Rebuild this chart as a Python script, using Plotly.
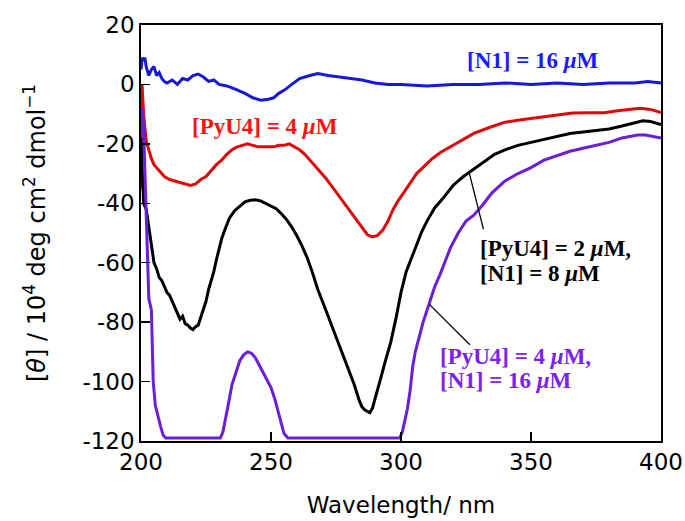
import plotly.graph_objects as go

# ---- data ----
wl_n1 = [200, 200.5, 201, 201.5, 202, 203, 204, 205, 206, 207, 208, 209, 210, 212, 214, 216, 218, 220,
         222, 224, 226, 228, 230, 233, 236, 240, 243, 246, 249, 251, 253, 255, 258, 261, 265, 268, 272,
         276, 280, 285, 290, 295, 300, 310, 320, 330, 340, 350, 360, 370, 380, 390, 395, 400]
cd_n1 = [5, 9, 8, 9, 6, 3, 5, 6, 3, 4, 2, 1, 0.5, 1.5, 0, 2, 1.5, 3,
         3.5, 2.5, 1, 1.5, 0, -0.5, -1.5, -3, -4.5, -5.3, -5, -4.5, -3, -2, 0, 2, 3, 3.7, 3,
         2.5, 2, 1.5, 0.5, 0, 0, -0.5, 0, 0, 0.5, 0, 0.5, 0, 0.5, 0.5, 1, 0.5]

wl_pyu4 = [200, 200.4, 201, 202, 203, 204, 205, 207, 209, 211, 213, 215, 217, 219, 221, 223, 225, 227,
           229, 231, 233, 235, 237, 239, 241, 243, 245, 247, 249, 251, 253, 255, 257, 259, 261, 263,
           265, 268, 271, 274, 277, 280, 283, 285, 287, 289, 291, 293, 295, 297, 299, 301, 303, 306,
           309, 312, 315, 319, 323, 328, 334, 340, 347, 354, 360, 366, 372, 378, 384, 388, 392, 396, 400]
cd_pyu4 = [-35, 0, -10, -19, -22, -25, -27, -29, -31, -32, -32.5, -33, -33.5, -34, -33.5, -32, -31, -29,
           -27, -25.5, -23.5, -22, -21, -20.5, -20, -20.5, -21, -21, -21, -21, -20.5, -20.5, -20, -21, -22, -23.5,
           -25.5, -28.5, -31.5, -35, -38.5, -42, -45.5, -48, -50.5, -51.3, -50.8, -49, -46, -42, -39, -36.5, -34, -30,
           -27.5, -25, -23, -21, -19, -16.5, -14.5, -12.7, -11.8, -10.9, -10.3, -9.6, -9.5, -9.5, -8.8, -8.3, -8, -8.4, -9.5]

wl_mix2 = [200, 200.5, 201, 202, 203, 204, 205, 206, 207, 208, 209, 210, 211, 212, 213, 214, 215, 216, 217,
           218, 219, 220, 221, 222, 223, 224, 225, 226, 227, 228, 229, 230, 231, 232, 234, 236, 238, 240, 242,
           244, 246, 248, 250, 252, 254, 256, 258, 260, 262, 264, 266, 268, 270, 272, 274, 276, 278, 280, 282,
           284, 285, 286, 287, 288, 289, 290, 291, 292, 294, 296, 298, 300, 302, 304, 306, 308, 310, 313, 316,
           320, 324, 328, 332, 336, 340, 345, 350, 355, 360, 365, 370, 375, 380, 385, 390, 393, 396, 400]
cd_mix2 = [-18, -30, -40, -42, -48, -55, -60, -62, -65, -66, -68, -70, -71, -73, -75, -77, -79, -78, -80.5,
           -81, -82, -82.5, -81.5, -81, -78.5, -76, -73, -69, -66, -63, -59, -55, -52, -49.5, -45, -42.5, -41, -39.5, -39,
           -38.8, -39.2, -40, -40.8, -41.8, -43.5, -45.5, -48, -51, -54.5, -58.5, -63.5, -69, -73.5, -78, -82.5, -87.5, -92, -96, -101,
           -106.5, -108.5, -109.5, -110, -110.5, -109, -106, -103, -99.5, -93, -87, -79, -70, -63, -58.5, -53.5, -49.5, -46, -41.5, -38.5,
           -34, -31, -28.5, -26, -23.5, -22, -20.5, -19.5, -18.5, -17.5, -16.5, -16, -15.5, -15, -14, -12.8, -12.2, -12.5, -13.5]

wl_mix4 = [200, 200.5, 201, 202, 203, 204, 204.7, 205.5, 206.5, 207.5, 208.5, 209.5, 212, 216, 220, 224, 228,
           230.5, 231.5, 232.5, 233.5, 235, 236.5, 238, 239.5, 241, 242.5, 244, 245.5, 247, 248.5, 250, 251.5,
           253, 254, 255, 256.5, 258, 262, 270, 280, 290, 299.5, 300.5, 301.5, 302.5, 303.5, 304.5, 305.5, 307,
           308.5, 310, 311.5, 313, 315, 317, 319, 322, 325, 328, 331, 335, 340, 345, 350, 355, 360, 365, 370,
           375, 380, 385, 388, 391, 394, 397, 400]
cd_mix4 = [-12, -8, -15, -45, -72, -76, -100, -108, -112, -115, -118, -119, -119, -119, -119, -119, -119,
           -119, -117, -113, -108, -101, -97, -93, -91, -90, -90.5, -92, -94.5, -97, -99, -102, -106,
           -111, -115, -117.5, -119, -119, -119, -119, -119, -119, -119, -117, -113, -109, -103, -95, -90, -84.5,
           -80, -76, -72, -68, -64, -59.5, -55, -50, -46, -44, -41, -36.5, -32.5, -30, -28, -25.5, -24, -22.5, -21.5,
           -20.5, -19.5, -18, -17.5, -17, -17, -17.5, -18]

x_ticks = [200, 250, 300, 350, 400]
y_ticks = [-120, -100, -80, -60, -40, -20, 0, 20]

BLUE = "#1818d8"
RED = "#dc0a0a"
BLACK = "#000000"
PURPLE = "#6a1ed8"

fig = go.Figure()
for wl, cd, col in [(wl_n1, cd_n1, BLUE), (wl_pyu4, cd_pyu4, RED),
                    (wl_mix2, cd_mix2, BLACK), (wl_mix4, cd_mix4, PURPLE)]:
    fig.add_trace(go.Scatter(x=wl, y=cd, mode="lines",
                             line=dict(color=col, width=3), showlegend=False,
                             cliponaxis=True, hoverinfo="skip"))

serif = "Liberation Serif"
ann_font = 23


def label(x, y, text, color, anchor="center"):
    fig.add_annotation(x=x, y=y, xref="x", yref="y", showarrow=False,
                       xanchor=anchor, yanchor="middle", text="<b>" + text + "</b>",
                       font=dict(family=serif, size=ann_font, color=color))


label(350.6, 8.2, "[N1] = 16 <i>μ</i>M", "#1a1aff")
label(247.7, -14.3, "[PyU4] = 4 <i>μ</i>M", "#ff1010")
label(329.7, -55.1, "[PyU4] = 2 <i>μ</i>M,", "#000000", "left")
label(329.7, -63.5, "[N1] = 8 <i>μ</i>M", "#000000", "left")
label(314.4, -91.4, "[PyU4] = 4 <i>μ</i>M,", "#7d20f0", "left")
label(314.4, -99.8, "[N1] = 16 <i>μ</i>M", "#7d20f0", "left")

# leader lines
fig.add_shape(type="line", xref="x", yref="y", x0=326.2, y0=-29.6, x1=331.7, y1=-48.7,
              line=dict(color="black", width=1.3))
fig.add_shape(type="line", xref="x", yref="y", x0=311.0, y0=-74.1, x1=326.5, y1=-87.6,
              line=dict(color="black", width=1.3))

axis_font = dict(family="DejaVu Sans", size=23, color="black")
fig.update_layout(
    width=685, height=521,
    margin=dict(l=141, r=24, t=25, b=80),
    paper_bgcolor="white", plot_bgcolor="white",
    xaxis=dict(range=[200, 400], tickvals=x_ticks, ticktext=[str(v) for v in x_ticks],
               ticks="inside", ticklen=9, tickwidth=1.5, tickcolor="black",
               showline=True, linecolor="black", linewidth=1.8, mirror=True,
               showgrid=False, zeroline=False, tickfont=axis_font, automargin=False,
               title=dict(text="Wavelength/ nm", font=axis_font, standoff=22)),
    yaxis=dict(range=[-120, 20], tickvals=y_ticks, ticktext=[str(v) for v in y_ticks],
               ticks="inside", ticklen=9, tickwidth=1.5, tickcolor="black",
               showline=True, linecolor="black", linewidth=1.8, mirror=True,
               showgrid=False, zeroline=False, tickfont=axis_font, automargin=False,
               title=dict(text="[<i>θ</i>] / 10<sup>4</sup> deg cm<sup>2</sup> dmol<sup>−1</sup>",
                          font=dict(family="DejaVu Sans", size=24, color="black"),
                          standoff=30)),
)

fig.write_html("out.html", config={"displayModeBar": False, "staticPlot": True},
               post_script="document.body.style.margin='0px';document.body.style.overflow='hidden';")
